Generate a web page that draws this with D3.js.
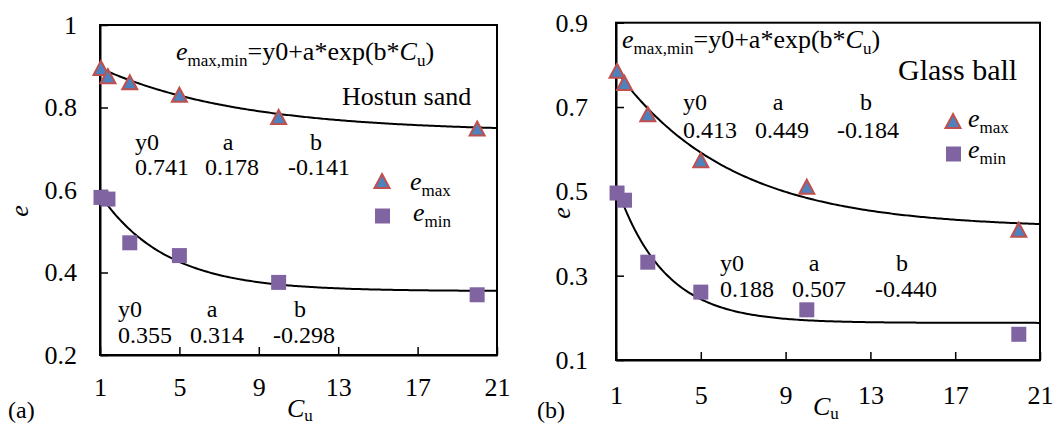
<!DOCTYPE html>
<html>
<head>
<meta charset="utf-8">
<script src="https://cdn.jsdelivr.net/npm/d3@7"></script>
<style>
  html, body { margin: 0; padding: 0; background: #fff; }
  svg { display: block; }
  text { font-family: "Liberation Serif", "Times New Roman", serif; fill: #000; }
</style>
</head>
<body>
<svg id="chart" width="1056" height="425"></svg>
<script>
// Uniformity coefficient of each sample
const cuValues = [1.05, 1.4, 2.5, 5, 10, 20];

// Hostun sand void ratios
const hostunEmax = [0.896, 0.876, 0.861, 0.831, 0.777, 0.749];
const hostunEmin = [0.582, 0.578, 0.472, 0.441, 0.376, 0.346];

// Glass ball void ratios
const glassEmax = [0.786, 0.757, 0.683, 0.574, 0.511, 0.409];
const glassEmin = [0.496, 0.479, 0.332, 0.261, 0.219, 0.161];

// Fitted coefficients [y0, a, b] for e = y0 + a*exp(b*Cu)
const hostunFitMax = [0.741, 0.178, -0.141];
const hostunFitMin = [0.355, 0.314, -0.298];
const glassFitMax = [0.413, 0.449, -0.184];
const glassFitMin = [0.188, 0.507, -0.440];

// Axis ticks
const xTicks = [1, 5, 9, 13, 17, 21];
const hostunYTicks = [0.2, 0.4, 0.6, 0.8, 1];
const glassYTicks = [0.1, 0.3, 0.5, 0.7, 0.9];

const coefHeaders = ["y0", "a", "b"];

const SERIF = '"Liberation Serif", "Times New Roman", serif';

const svg = d3.select("#chart");
svg.append("rect").attr("width", 1056).attr("height", 425).attr("fill", "#fff");

const COLOR_TRI_FILL = "#4F81BD";
const COLOR_TRI_STROKE = "#C0504D";
const COLOR_SQUARE = "#8064A2";

// Upward triangle centred on its bounding box
function trianglePath(cx, cy, w, h) {
  return `M${cx},${cy - h / 2}L${cx + w / 2},${cy + h / 2}L${cx - w / 2},${cy + h / 2}Z`;
}

function addSubText(g, x, y, main, sub, size, subSize, dy) {
  const t = g.append("text").attr("x", x).attr("y", y).attr("font-size", size);
  t.append("tspan").attr("font-style", "italic").text(main);
  t.append("tspan").attr("font-size", subSize).attr("dy", dy).text(sub);
  return t;
}

function drawPanel(cfg) {
  const g = svg.append("g");
  const x = d3.scaleLinear().domain([1, 21]).range(cfg.xRange);
  const y = d3.scaleLinear().domain(cfg.yDomain).range(cfg.yRange);
  const fmt = d3.format("~g");

  // frame
  g.append("rect")
    .attr("x", cfg.xRange[0]).attr("y", cfg.yRange[1])
    .attr("width", cfg.xRange[1] - cfg.xRange[0])
    .attr("height", cfg.yRange[0] - cfg.yRange[1])
    .attr("fill", "none").attr("stroke", "#000").attr("stroke-width", 2);

  // axes with inward ticks
  const yAxis = d3.axisLeft(y).tickValues(cfg.yTicks).tickFormat(fmt)
    .tickSizeInner(-8).tickSizeOuter(0).tickPadding(cfg.yPad);
  const xAxis = d3.axisBottom(x).tickValues(xTicks).tickFormat(fmt)
    .tickSizeInner(-8).tickSizeOuter(0).tickPadding(cfg.xPad);

  const ya = g.append("g").attr("transform", `translate(${cfg.xRange[0]},0)`).call(yAxis);
  const xa = g.append("g").attr("transform", `translate(0,${cfg.yRange[0]})`).call(xAxis);
  [ya, xa].forEach(a => {
    a.attr("font-family", null).attr("font-size", null);
    a.select(".domain").attr("stroke", "#000").attr("stroke-width", 2);
    a.selectAll(".tick line").attr("stroke", "#000").attr("stroke-width", 1.5);
    a.selectAll(".tick text").attr("font-size", 26).attr("fill", "#000");
  });

  // fitted curves
  const line = d3.line().x(d => x(d[0])).y(d => y(d[1]));
  const cuGrid = d3.range(1, 21.0001, 0.1);
  [cfg.fitMax, cfg.fitMin].forEach(p => {
    const pts = cuGrid.map(c => [c, p[0] + p[1] * Math.exp(p[2] * c)]);
    g.append("path").attr("d", line(pts))
      .attr("fill", "none").attr("stroke", "#000").attr("stroke-width", 2);
  });

  // e_max markers
  g.selectAll(".tri").data(cuValues.map((c, i) => [c, cfg.emax[i]])).enter()
    .append("path")
    .attr("d", d => trianglePath(x(d[0]), y(d[1]), 15, 14))
    .attr("fill", COLOR_TRI_FILL).attr("stroke", COLOR_TRI_STROKE).attr("stroke-width", 2);

  // e_min markers
  const sq = 15;
  g.selectAll(".sq").data(cuValues.map((c, i) => [c, cfg.emin[i]])).enter()
    .append("rect")
    .attr("x", d => x(d[0]) - sq / 2).attr("y", d => y(d[1]) - sq / 2)
    .attr("width", sq).attr("height", sq).attr("fill", COLOR_SQUARE);

  // fit equation
  const f = g.append("text").attr("x", cfg.formula[0]).attr("y", cfg.formula[1]).attr("font-size", 26);
  f.append("tspan").attr("font-style", "italic").text("e");
  f.append("tspan").attr("font-size", 17).attr("dy", 6).text("max,min");
  f.append("tspan").attr("dy", -6).text("=y0+a*exp(b*");
  f.append("tspan").attr("font-style", "italic").text("C");
  f.append("tspan").attr("font-size", 17).attr("dy", 6).text("u");
  f.append("tspan").attr("dy", -6).text(")");

  // material name
  g.append("text").attr("x", cfg.name[0]).attr("y", cfg.name[1])
    .attr("font-size", cfg.nameSize).text(cfg.nameText);

  // coefficient tables
  [[cfg.tableMax, cfg.fitMax], [cfg.tableMin, cfg.fitMin]].forEach(([tb, p]) => {
    coefHeaders.forEach((h, i) => {
      g.append("text").attr("x", tb.hx[i]).attr("y", tb.hy)
        .attr("text-anchor", i === 0 ? "start" : "middle")
        .attr("font-size", 24).text(h);
      g.append("text").attr("x", tb.vx[i]).attr("y", tb.vy)
        .attr("font-size", 24).text(d3.format(".3f")(p[i]).replace("−", "-"));
    });
  });

  // legend
  const L = cfg.legend;
  g.append("path").attr("d", trianglePath(L.tri[0], L.tri[1], 15, 14))
    .attr("fill", COLOR_TRI_FILL).attr("stroke", COLOR_TRI_STROKE).attr("stroke-width", 2);
  addSubText(g, L.maxText[0], L.maxText[1], "e", "max", 26, 17, 6);
  g.append("rect").attr("x", L.sq[0] - sq / 2).attr("y", L.sq[1] - sq / 2)
    .attr("width", sq).attr("height", sq).attr("fill", COLOR_SQUARE);
  addSubText(g, L.minText[0], L.minText[1], "e", "min", 26, 17, 6);

  // axis titles
  g.append("text")
    .attr("transform", `translate(${cfg.yTitle[0]},${cfg.yTitle[1]}) rotate(-90)`)
    .attr("text-anchor", "middle").attr("dy", "0.3em")
    .attr("font-size", 26).attr("font-style", "italic").text("e");
  addSubText(g, cfg.xTitle[0], cfg.xTitle[1], "C", "u", 26, 17, 4);

  // panel tag
  g.append("text").attr("x", cfg.tag[0]).attr("y", cfg.tag[1])
    .attr("font-size", 24).text(cfg.tagText);
}

drawPanel({
  xRange: [100, 497], yDomain: [0.2, 1], yRange: [355, 25],
  yTicks: hostunYTicks, yPad: 23, xPad: 23,
  emax: hostunEmax, emin: hostunEmin,
  fitMax: hostunFitMax, fitMin: hostunFitMin,
  formula: [176, 60],
  name: [342, 105], nameSize: 26, nameText: "Hostun sand",
  tableMax: { hx: [135, 228, 316], hy: 150, vx: [135, 205, 288], vy: 175 },
  tableMin: { hx: [118, 212, 300], hy: 317, vx: [118, 190, 273], vy: 343 },
  legend: { tri: [382, 181], maxText: [410, 190], sq: [382.5, 216], minText: [413, 221] },
  yTitle: [20, 211], xTitle: [287, 417],
  tag: [8, 418], tagText: "(a)"
});

drawPanel({
  xRange: [616, 1040], yDomain: [0.1, 0.9], yRange: [360, 22.7],
  yTicks: glassYTicks, yPad: 28, xPad: 26,
  emax: glassEmax, emin: glassEmin,
  fitMax: glassFitMax, fitMin: glassFitMin,
  formula: [622, 48],
  name: [898, 80], nameSize: 30, nameText: "Glass ball",
  tableMax: { hx: [683, 778, 866], hy: 110, vx: [683, 755, 837], vy: 138 },
  tableMin: { hx: [720, 814, 902], hy: 271, vx: [720, 792, 875], vy: 297 },
  legend: { tri: [953, 121], maxText: [968, 127], sq: [953.5, 154], minText: [968, 158] },
  yTitle: [562, 213], xTitle: [813, 415],
  tag: [537, 418], tagText: "(b)"
});

// serif face for every label
svg.selectAll("text").style("font-family", SERIF);
</script>
</body>
</html>
